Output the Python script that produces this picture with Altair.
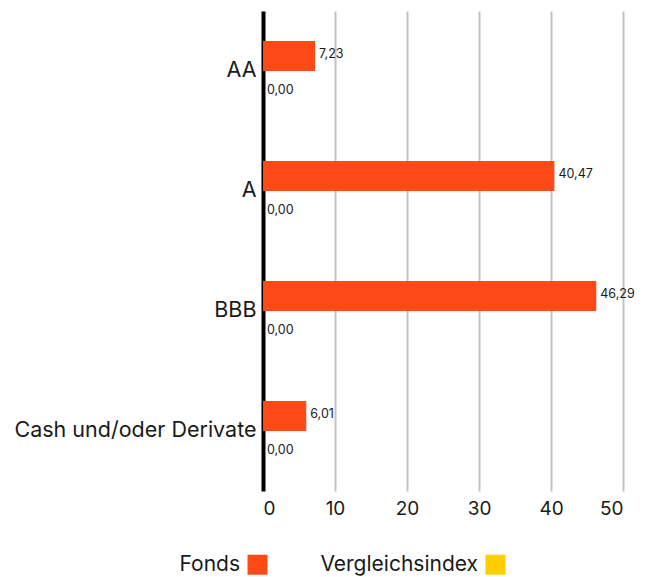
import altair as alt
import pandas as pd

categories = ["AA", "A", "BBB", "Cash und/oder Derivate"]
fonds = [7.23, 40.47, 46.29, 6.01]
vergleich = [0.00, 0.00, 0.00, 0.00]
series_names = ["Fonds", "Vergleichsindex"]
colors = ["#ff4a17", "#ffce00"]
x_ticks = [0, 10, 20, 30, 40, 50]

rows = []
for c, f, v in zip(categories, fonds, vergleich):
    rows.append({"cat": c, "series": "Fonds", "value": f})
    rows.append({"cat": c, "series": "Vergleichsindex", "value": v})
df = pd.DataFrame(rows)

FONT = "Inter"
TXT = "#1a1a1a"

y_enc = alt.Y("cat:N", sort=categories, title=None,
              scale=alt.Scale(paddingInner=0.5, paddingOuter=0.25),
              axis=alt.Axis(labelFontSize=21.5, labelColor=TXT, labelFont=FONT,
                            labelPadding=7, ticks=False, domain=True, domainColor="#000000",
                            domainWidth=4, grid=False, labelLimit=400))
x_enc = alt.X("value:Q", title=None,
              scale=alt.Scale(domain=[0, 50], nice=False),
              axis=alt.Axis(values=x_ticks, labelFontSize=19, labelColor=TXT, labelFont=FONT,
                            domain=False, ticks=False, labelPadding=8, grid=True,
                            gridColor="#c4c4c4", gridWidth=2))
yoff = alt.YOffset("series:N", sort=series_names, scale=alt.Scale(paddingInner=0, paddingOuter=0))

bars = alt.Chart(df).mark_bar().encode(
    y=y_enc,
    yOffset=yoff,
    x=x_enc,
    color=alt.Color("series:N", sort=series_names,
                    scale=alt.Scale(domain=series_names, range=colors),
                    legend=alt.Legend(title=None, orient="none", direction="horizontal",
                                      legendX=-16, legendY=543,
                                      symbolType="square", symbolSize=400, symbolStrokeWidth=0,
                                      labelFontSize=21, labelFont=FONT, labelColor=TXT,
                                      labelAlign="right", labelOffset={"expr": "-28"},
                                      columnPadding=52)),
)


def label_layer(series, dy):
    return alt.Chart(df).transform_filter(
        alt.datum.series == series
    ).transform_calculate(
        lbl="replace(format(datum.value, '.2f'), '.', ',')"
    ).mark_text(align="left", baseline="middle", dx=4, dy=dy, fontSize=12.5,
                font=FONT, color=TXT).encode(
        y=y_enc,
        yOffset=yoff,
        x=x_enc,
        text="lbl:N",
    )


chart = alt.layer(bars, label_layer("Fonds", -2), label_layer("Vergleichsindex", 4)).properties(
    width=360, height=480,
    padding={"left": 5, "top": 3, "right": 5, "bottom": 5},
).configure(font=FONT).configure_view(stroke="transparent").configure_axis(
    grid=False, domain=False
)

chart.save("out.html", embed_options={"renderer": "svg", "actions": False})
